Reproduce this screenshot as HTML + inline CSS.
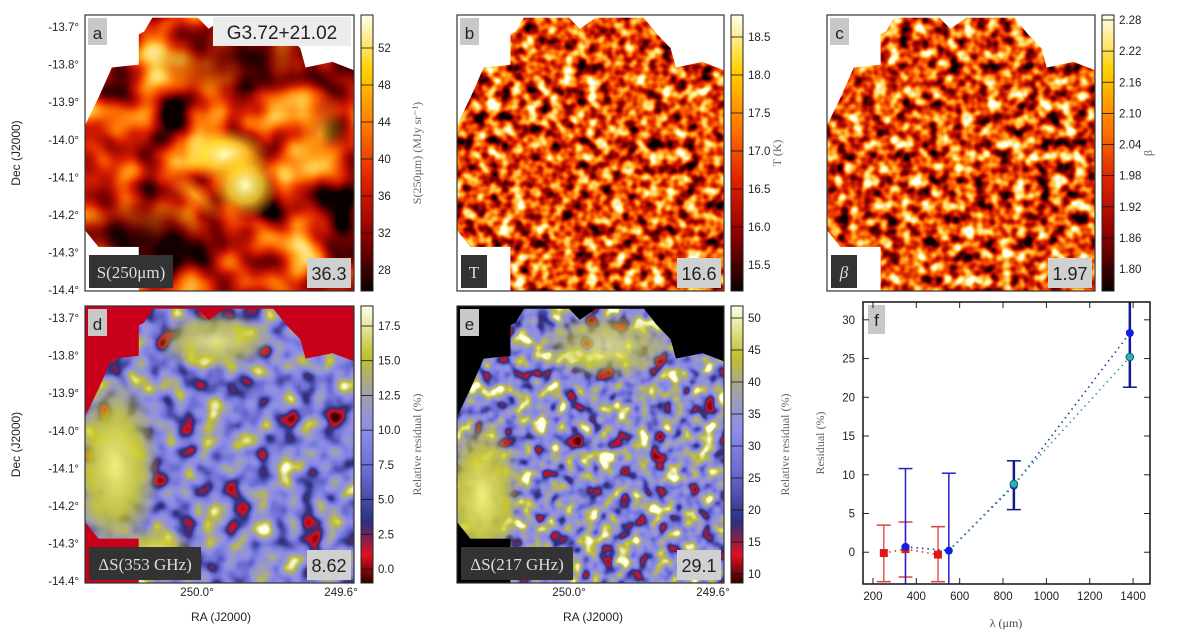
<!DOCTYPE html>
<html><head><meta charset="utf-8"><style>
html,body{margin:0;padding:0;background:#fff;}
svg{display:block;font-family:"Liberation Sans",sans-serif;}
.tk{font-size:11.5px;fill:#222;}
.ser{font-family:"Liberation Serif",serif;}
</style></head><body>
<svg id="fig" width="1200" height="636" viewBox="0 0 1200 636" xmlns="http://www.w3.org/2000/svg">
<defs>
 <linearGradient id="hotG" x1="0" y1="1" x2="0" y2="0">
  <stop offset="0" stop-color="#0a0000"/><stop offset="0.2" stop-color="#8c0000"/><stop offset="0.4" stop-color="#e02000"/>
  <stop offset="0.6" stop-color="#ff7a00"/><stop offset="0.8" stop-color="#ffd000"/><stop offset="1" stop-color="#ffffee"/>
 </linearGradient>
 <linearGradient id="resG" x1="0" y1="1" x2="0" y2="0">
  <stop offset="0" stop-color="#300000"/><stop offset="0.1" stop-color="#e01020"/><stop offset="0.22" stop-color="#2a3080"/>
  <stop offset="0.4" stop-color="#6a6ad0"/><stop offset="0.55" stop-color="#8c8ce8"/><stop offset="0.68" stop-color="#a0a0b0"/>
  <stop offset="0.82" stop-color="#c0c030"/><stop offset="1" stop-color="#ffffe8"/>
 </linearGradient>
 <radialGradient id="yel"><stop offset="0" stop-color="#ffffc0" stop-opacity="1"/><stop offset="0.5" stop-color="#ffe030" stop-opacity="0.8"/><stop offset="1" stop-color="#ffa000" stop-opacity="0"/></radialGradient>
 <radialGradient id="org"><stop offset="0" stop-color="#ffc020" stop-opacity="0.8"/><stop offset="1" stop-color="#ff8000" stop-opacity="0"/></radialGradient>
 <radialGradient id="drk"><stop offset="0" stop-color="#150000" stop-opacity="0.8"/><stop offset="1" stop-color="#300000" stop-opacity="0"/></radialGradient>
 <radialGradient id="olv"><stop offset="0" stop-color="#f0f080" stop-opacity="1"/><stop offset="0.55" stop-color="#c8c830" stop-opacity="0.85"/><stop offset="1" stop-color="#c0c030" stop-opacity="0"/></radialGradient>
</defs>
<g id="maps"></g>
<g id="panelf"></g>
</svg>
<script>
// ---- panel f data ----
const redLam = [250, 350, 500];
const redVal = [-0.1, 0.4, -0.3];
const redHi = [3.5, 3.9, 3.3];
const redLo = [-3.8, -3.2, -3.8];
const blueLam = [350, 550, 850, 1385];
const blueVal = [0.7, 0.2, 8.6, 28.3];
const blueHi = [10.8, 10.2, 11.8, 36];
const blueLo = [-12, -12, 5.5, 21.3];
const cyanLam = [850, 1385];
const cyanVal = [8.8, 25.2];
const xTicks = [200, 400, 600, 800, 1000, 1200, 1400];
const yTicks = [0, 5, 10, 15, 20, 25, 30];

const NS = "http://www.w3.org/2000/svg";
function mk(tag, attrs, parent){const e=document.createElementNS(NS,tag);for(const k in attrs)e.setAttribute(k,attrs[k]);if(parent)parent.appendChild(e);return e;}
function txt(parent,x,y,s,attrs){const t=mk("text",Object.assign({x:x,y:y},attrs||{}),parent);t.textContent=s;return t;}

const fig=document.getElementById("fig");
const defs=fig.querySelector("defs");
const maps=document.getElementById("maps");

const shape=[[0.22,0.06],[0.25,0.01],[0.42,0.01],[0.46,0.05],[0.52,0.01],[0.70,0.01],[0.75,0.07],[0.80,0.12],[0.82,0.19],[0.92,0.17],[1,0.2],[1,1],[0.2,1],[0.2,0.84],[0.05,0.84],[0.0,0.78],[0.0,0.40],[0.05,0.30],[0.1,0.19],[0.2,0.18],[0.2,0.07]];

const hotR="0.04 0.5 0.85 1 1 1", hotG="0 0 0.12 0.45 0.82 1", hotB="0 0 0 0 0.3 0.95";
const resR="0.25 0.85 0.17 0.42 0.55 0.62 0.75 1", resGr="0 0.06 0.19 0.42 0.55 0.62 0.75 1", resB="0 0.12 0.5 0.82 0.91 0.72 0.2 0.9";

const panels=[
 {id:"a",x:85,y:15,w:269,h:276,bg:"#fff",freq:0.022,oct:2,seed:3,gain:1.7,off:-0.12,R:hotR,G:hotG,B:hotB,grad:"hotG",
  cbTicks:["52","48","44","40","36","32","28"],cbTop:48,cbBot:270,cbLabel:"S(250μm) (MJy sr⁻¹)",lab:"S(250μm)",val:"36.3",labW:84},
 {id:"b",x:457,y:15,w:267,h:276,bg:"#fff",freq:0.08,oct:2,seed:7,gain:1.9,off:0.0,R:hotR,G:hotG,B:hotB,grad:"hotG",
  cbTicks:["18.5","18.0","17.5","17.0","16.5","16.0","15.5"],cbTop:37,cbBot:265,cbLabel:"T (K)",lab:"T",val:"16.6",labW:26},
 {id:"c",x:827,y:15,w:268,h:276,bg:"#fff",freq:0.08,oct:2,seed:11,gain:1.9,off:0.0,R:hotR,G:hotG,B:hotB,grad:"hotG",
  cbTicks:["2.28","2.22","2.16","2.10","2.04","1.98","1.92","1.86","1.80"],cbTop:20,cbBot:269,cbLabel:"β",lab:"β",val:"1.97",labW:26},
 {id:"d",x:85,y:306,w:269,h:277,bg:"#c8001a",freq:0.04,oct:2,seed:5,gain:1.5,off:0.04,R:resR,G:resGr,B:resB,grad:"resG",
  cbTicks:["17.5","15.0","12.5","10.0","7.5","5.0","2.5","0.0"],cbTop:326,cbBot:569,cbLabel:"Relative residual (%)",lab:"ΔS(353 GHz)",val:"8.62",labW:112},
 {id:"e",x:457,y:306,w:267,h:277,bg:"#000",freq:0.06,oct:2,seed:9,gain:1.7,off:0.09,R:resR,G:resGr,B:resB,grad:"resG",
  cbTicks:["50","45","40","35","30","25","20","15","10"],cbTop:318,cbBot:574,cbLabel:"Relative residual (%)",lab:"ΔS(217 GHz)",val:"29.1",labW:112}
];

panels.forEach(p=>{
 const g=mk("g",{},maps);
 
 
 const cp=mk("clipPath",{id:"clip"+p.id},defs);
 mk("polygon",{points:shape.map(s=>(p.x+s[0]*p.w)+","+(p.y+s[1]*p.h)).join(" ")},cp);
 const f=mk("filter",{id:"flt"+p.id,x:p.x,y:p.y,width:p.w,height:p.h,filterUnits:"userSpaceOnUse","color-interpolation-filters":"sRGB"},defs);
 mk("feTurbulence",{type:"fractalNoise",baseFrequency:p.freq,numOctaves:p.oct,seed:p.seed},f);
 const m=(p.gain)+" 0 0 0 "+(0.5-p.gain*0.5+p.off);
 mk("feColorMatrix",{type:"matrix",values:m+" "+m+" "+m+" 0 0 0 0 1"},f);
 const ct=mk("feComponentTransfer",{},f);
 mk("feFuncR",{type:"table",tableValues:p.R},ct);
 mk("feFuncG",{type:"table",tableValues:p.G},ct);
 mk("feFuncB",{type:"table",tableValues:p.B},ct);
 const bg=mk("rect",{x:p.x,y:p.y,width:p.w,height:p.h,fill:p.bg},g);
 
 
 const img=mk("rect",{x:p.x,y:p.y,width:p.w,height:p.h,filter:"url(#flt"+p.id+")","clip-path":"url(#clip"+p.id+")"},g);
 
 
 if(p.id==="a"){
  const cg=mk("g",{"clip-path":"url(#clipa)"},g);
  
  
  mk("ellipse",{cx:p.x+140,cy:p.y+140,rx:45,ry:28,fill:"url(#yel)"},cg);
  mk("ellipse",{cx:p.x+160,cy:p.y+170,rx:35,ry:35,fill:"url(#yel)"},cg);
  mk("ellipse",{cx:p.x+235,cy:p.y+120,rx:28,ry:50,fill:"url(#org)"},cg);
  mk("ellipse",{cx:p.x+110,cy:p.y+180,rx:40,ry:14,fill:"url(#org)",transform:"rotate(40 "+(p.x+110)+" "+(p.y+180)+")"},cg);
  mk("ellipse",{cx:p.x+60,cy:p.y+225,rx:75,ry:45,fill:"url(#drk)"},cg);
  mk("ellipse",{cx:p.x+160,cy:p.y+45,rx:90,ry:40,fill:"url(#drk)",opacity:0.7},cg);
 }
 if(p.id==="d"){
  const cg=mk("g",{"clip-path":"url(#clipd)"},g);
  
  
  mk("ellipse",{cx:p.x+30,cy:p.y+160,rx:45,ry:90,fill:"url(#olv)"},cg);
  mk("ellipse",{cx:p.x+130,cy:p.y+35,rx:60,ry:30,fill:"url(#olv)",opacity:0.8},cg);
  mk("ellipse",{cx:p.x+70,cy:p.y+250,rx:40,ry:30,fill:"url(#olv)"},cg);
 }
 if(p.id==="e"){
  const cg=mk("g",{"clip-path":"url(#clipe)"},g);
  
  
  mk("ellipse",{cx:p.x+25,cy:p.y+190,rx:40,ry:80,fill:"url(#olv)"},cg);
  mk("ellipse",{cx:p.x+150,cy:p.y+40,rx:70,ry:35,fill:"url(#olv)",opacity:0.7},cg);
 }
 const fr=mk("rect",{x:p.x,y:p.y,width:p.w,height:p.h,fill:"none",stroke:"#333","stroke-width":1.2},g);
 
 
 const lb=mk("rect",{x:p.x+3,y:p.y+3,width:19,height:27,fill:"#c8c8c8"},g);
 
 
 const lt=txt(g,p.x+12.5,p.y+24,p.id,{"text-anchor":"middle","font-size":"17",fill:"#222"});
 
 
 const nb=mk("rect",{x:p.x+4,y:p.y+p.h-36,width:p.labW,height:33,fill:"#333"},g);
 
 
 const nt=txt(g,p.x+4+p.labW/2,p.y+p.h-13,p.lab,{"text-anchor":"middle","font-size":"17",fill:"#ddd","class":"ser","font-style":p.id==="c"?"italic":"normal"});
 
 
 const vb=mk("rect",{x:p.x+p.w-47,y:p.y+p.h-33,width:44,height:30,fill:"#d0d0d0"},g);
 
 
 const vt=txt(g,p.x+p.w-25,p.y+p.h-11,p.val,{"text-anchor":"middle","font-size":"18",fill:"#222"});
 
 
 const cbx=p.x+p.w+7;
 const cb=mk("rect",{x:cbx,y:p.y,width:12,height:p.h,fill:"url(#"+p.grad+")",stroke:"#222","stroke-width":1},g);
 
 
 p.cbTicks.forEach((t,i)=>{
  const yy=p.cbTop+(p.cbBot-p.cbTop)*i/(p.cbTicks.length-1);
  mk("line",{x1:cbx,x2:cbx+12,y1:yy,y2:yy,stroke:"#111","stroke-width":0.8},g);
  const tt=txt(g,cbx+17,yy+4,t,{"class":"tk"});
  
  
 });
 const lx=cbx+(p.id==="a"||p.id==="d"?60:p.id==="e"?58:50);
 const cy=p.y+p.h/2;
 const cl=txt(g,lx,cy,p.cbLabel,{"text-anchor":"middle","font-size":"12",fill:"#666","class":"ser",transform:"rotate(-90 "+lx+" "+cy+")"});
 
 
 if(p.id==="a"||p.id==="d"){
  const decs=["-13.7°","-13.8°","-13.9°","-14.0°","-14.1°","-14.2°","-14.3°","-14.4°"];
  decs.forEach((d,i)=>{
   const yy=p.y+12+i*37.6;
   const dt=txt(g,79,yy+4,d,{"text-anchor":"end","class":"tk"});
   
   
  });
  const ax=txt(g,20,p.y+p.h/2,"Dec (J2000)",{"text-anchor":"middle","font-size":"12",fill:"#222",transform:"rotate(-90 20 "+(p.y+p.h/2)+")"});
  
  
 }
 if(p.id==="d"||p.id==="e"){
  const r1=txt(g,p.x+112,596,"250.0°",{"text-anchor":"middle","class":"tk"});
  
  
  const r2=txt(g,p.x+256,596,"249.6°",{"text-anchor":"middle","class":"tk"});
  
  
  const rt=txt(g,p.x+136,621,"RA (J2000)",{"text-anchor":"middle","font-size":"12",fill:"#222"});
  
  
 }
});
const fb=mk("rect",{x:213,y:17,width:138,height:29,fill:"#ececec"},maps);


const fn=txt(maps,282,39,"G3.72+21.02",{"text-anchor":"middle","font-size":"19",fill:"#222"});



// ---- panel f ----
const pf=document.getElementById("panelf");
const L=863,R=1150,T=302,B=584;
const X=v=>L+(v-154)*(R-L)/1324;
const Y=v=>B-(v+4.1)*(B-T)/36.4;
mk("clipPath",{id:"clipf"},defs).appendChild(mk("rect",{x:L,y:T,width:R-L,height:B-T}));
const fl=mk("rect",{x:L+5,y:T+3,width:17,height:29,fill:"#c8c8c8"},pf);


const ft=txt(pf,L+13.5,T+24,"f",{"text-anchor":"middle","font-size":"17",fill:"#222"});


xTicks.forEach(v=>{
 mk("line",{x1:X(v),x2:X(v),y1:B,y2:B-6,stroke:"#222"},pf);
 mk("line",{x1:X(v),x2:X(v),y1:T,y2:T+6,stroke:"#222"},pf);
 const t=txt(pf,X(v),600,String(v),{"text-anchor":"middle","class":"tk"});
 
 
});
yTicks.forEach(v=>{
 mk("line",{x1:L,x2:L+6,y1:Y(v),y2:Y(v),stroke:"#222"},pf);
 mk("line",{x1:R,x2:R-6,y1:Y(v),y2:Y(v),stroke:"#222"},pf);
 const t=txt(pf,855,Y(v)+4,String(v),{"text-anchor":"end","class":"tk"});
 
 
});
const xt=txt(pf,1006,627,"λ (μm)",{"text-anchor":"middle","font-size":"12",fill:"#444","class":"ser"});


const yt=txt(pf,824,443,"Residual (%)",{"text-anchor":"middle","font-size":"12",fill:"#666","class":"ser",transform:"rotate(-90 824 443)"});


const plot=mk("g",{"clip-path":"url(#clipf)"},pf);
function line(lams,vals,color,name){
 const pl=mk("polyline",{points:lams.map((l,i)=>X(l)+","+Y(vals[i])).join(" "),fill:"none",stroke:color,"stroke-width":1.6,"stroke-dasharray":"1.5 4"},plot);
 
 
}
line(redLam,redVal,"#e03030","red-series-line");
line(blueLam,blueVal,"#2030b0","blue-series-line");
line([blueLam[1]].concat(cyanLam),[blueVal[1]].concat(cyanVal),"#30a0a0","cyan-series-line");
function errs(lams,vals,hi,lo,colorFn,wFn,name){
 lams.forEach((l,i)=>{
  const c=colorFn(i),w=wFn(i),x=X(l);
  const e=mk("g",{stroke:c,"stroke-width":w},plot);
  
  
  mk("line",{x1:x,x2:x,y1:Y(hi[i]),y2:Y(lo[i])},e);
  mk("line",{x1:x-7,x2:x+7,y1:Y(hi[i]),y2:Y(hi[i]),"stroke-width":1.5},e);
  mk("line",{x1:x-7,x2:x+7,y1:Y(lo[i]),y2:Y(lo[i]),"stroke-width":1.5},e);
 });
}
errs(redLam,redVal,redHi,redLo,()=>"#e04040",()=>1.3,"red");
errs(blueLam,blueVal,blueHi,blueLo,i=>i<2?"#2020d0":"#101890",i=>i<2?1.5:2.5,"blue");
redLam.forEach((l,i)=>{const m=mk("rect",{x:X(l)-4,y:Y(redVal[i])-4,width:8,height:8,fill:"#e01818"},plot);
 
 });
blueLam.forEach((l,i)=>{const m=mk("circle",{cx:X(l),cy:Y(blueVal[i]),r:4,fill:"#1020e0"},plot);
 
 });
cyanLam.forEach((l,i)=>{const m=mk("circle",{cx:X(l),cy:Y(cyanVal[i]),r:3.8,fill:"#30b0b0",stroke:"#106060","stroke-width":1},plot);
 
 });
const frm=mk("rect",{x:L,y:T,width:R-L,height:B-T,fill:"none",stroke:"#111","stroke-width":1.5},pf);


</script>
</body></html>
